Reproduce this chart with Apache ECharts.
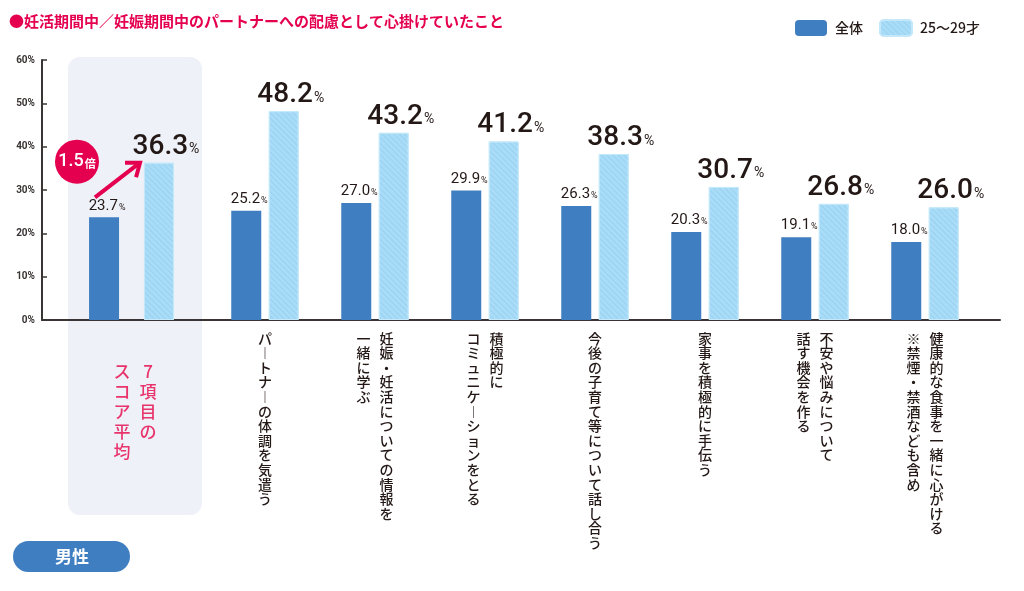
<!DOCTYPE html>
<html><head><meta charset="utf-8">
<script src="https://cdn.jsdelivr.net/npm/echarts@6/dist/echarts.min.js"></script>
<style>html,body{margin:0;padding:0;background:#fff}#c{width:1024px;height:591px}</style>
</head><body><div id="c"></div>
<script>
const titleText = '●妊活期間中／妊娠期間中のパートナーへの配慮として心掛けていたこと';
const seriesNames = ['全体', '25〜29才'];
const avgCategory = ['7項目の\nスコア平均'];
const avgAll = [23.7];
const avgAge = [36.3];
const categories = [
  'パートナーの体調を気遣う',
  '妊娠・妊活についての情報を\n一緒に学ぶ',
  '積極的に\nコミュニケーションをとる',
  '今後の子育て等について話し合う',
  '家事を積極的に手伝う',
  '不安や悩みについて\n話す機会を作る',
  '健康的な食事を一緒に心がける\n※禁煙・禁酒なども含め'
];
const allValues = [25.2, 27.0, 29.9, 26.3, 20.3, 19.1, 18.0];
const ageValues = [48.2, 43.2, 41.2, 38.3, 30.7, 26.8, 26.0];
const yMin = 0, yMax = 60, yInterval = 10;
const ratioText = '1.5';
const badgeText = '男性';

const DARK = '#3e7ec1', LIGHT = '#a9dcf6', INK = '#231815', PINK = '#e4004f', PINK2 = '#e8336b';
const NUMFONT = 'Roboto, sans-serif';
const JP = '"Noto Sans CJK JP", sans-serif';

function vertical(text, style) {
  const cols = text.split('\n').reverse().map(c => [...c]);
  const n = Math.max(...cols.map(c => c.length));
  const lines = [];
  for (let i = 0; i < n; i++) {
    lines.push(cols.map(c => {
      let ch = c[i];
      if (!ch) ch = '　';
      if (ch === 'ー') ch = '︱';
      return '{' + style + '|' + ch + '}';
    }).join(''));
  }
  return lines.join('\n');
}

const decal = {
  symbol: 'rect', symbolSize: 1,
  dashArrayX: [[1, 0]], dashArrayY: [1, 3],
  rotation: Math.PI / 4,
  color: 'rgba(130,195,235,0.45)'
};

const smallLabel = {
  show: true, position: 'top', distance: 4, offset: [3, 0],
  formatter: p => '{v|' + p.value.toFixed(1) + '}{p|%}',
  rich: {
    v: { fontSize: 15, color: INK, fontFamily: NUMFONT },
    p: { fontSize: 9, color: INK, fontFamily: NUMFONT, padding: [3, 0, 0, 1] }
  }
};
const bigLabel = {
  show: true, position: 'top', distance: 2, offset: [7, 0],
  formatter: p => '{v|' + p.value.toFixed(1) + '}{p|%}',
  rich: {
    v: { fontSize: 28, color: INK, fontFamily: NUMFONT, fontWeight: 500 },
    p: { fontSize: 14, color: INK, fontFamily: NUMFONT, padding: [6, 0, 0, 1] }
  }
};

const gridTop = 60, gridBottom = 271;
const hiddenY = i => ({ type: 'value', gridIndex: i, min: yMin, max: yMax, interval: yInterval, show: false });

const option = {
  animation: false,
  backgroundColor: '#fff',
  title: {
    text: titleText, left: 4, top: 9,
    textStyle: { color: PINK, fontSize: 15, fontWeight: 'bold', fontFamily: JP }
  },
  legend: {
    data: seriesNames, left: 790, top: 14, itemWidth: 32, itemHeight: 16, itemGap: 16,
    textStyle: { color: INK, fontSize: 14, fontFamily: JP, fontWeight: 500, padding: [0, 0, 0, 3] }
  },
  grid: [
    { left: 42, right: 24, top: gridTop, bottom: gridBottom },
    { left: 68, width: 127, top: gridTop, bottom: gridBottom },
    { left: 210, width: 770, top: gridTop, bottom: gridBottom }
  ],
  xAxis: [
    { type: 'value', gridIndex: 0, min: 0, max: 1, axisLine: { show: true, lineStyle: { color: '#3a3434', width: 2 } },
      axisTick: { show: false }, axisLabel: { show: false }, splitLine: { show: false } },
    { type: 'category', gridIndex: 1, data: avgCategory, axisLine: { show: false }, axisTick: { show: false },
      axisLabel: { margin: 42, interval: 0, padding: [0, 0, 0, 7], formatter: v => vertical(v, 'c'),
        rich: { c: { width: 26, align: 'center', fontSize: 17, lineHeight: 20, color: PINK2, fontFamily: JP, fontWeight: 500 } } } },
    { type: 'category', gridIndex: 2, data: categories, axisLine: { show: false }, axisTick: { show: false },
      axisLabel: { margin: 11, interval: 0, formatter: v => vertical(v, 'c'),
        rich: { c: { width: 23, align: 'center', fontSize: 14, lineHeight: 14.6, color: INK, fontFamily: JP, fontWeight: 500 } } } }
  ],
  yAxis: [
    { type: 'value', gridIndex: 0, min: yMin, max: yMax, interval: yInterval,
      axisLine: { show: true, lineStyle: { color: '#3a3434', width: 2 } },
      axisTick: { show: true, inside: true, length: 5, lineStyle: { color: '#3a3434', width: 1.5 } },
      splitLine: { show: false },
      axisLabel: { formatter: '{value}%', fontSize: 10, fontWeight: 'bold', color: '#3a3434', margin: 7, fontFamily: 'Roboto, sans-serif' } },
    hiddenY(1), hiddenY(2)
  ],
  series: [
    { name: seriesNames[0], type: 'bar', xAxisIndex: 1, yAxisIndex: 1, data: avgAll, barWidth: 30, barGap: '83%',
      itemStyle: { color: DARK }, label: smallLabel, z: 3 },
    { name: seriesNames[1], type: 'bar', xAxisIndex: 1, yAxisIndex: 1, data: avgAge, barWidth: 30,
      itemStyle: { color: LIGHT, decal: decal, borderColor: '#c4e8fa', borderWidth: 1 }, label: bigLabel, z: 3 },
    { name: seriesNames[0], type: 'bar', xAxisIndex: 2, yAxisIndex: 2, data: allValues, barWidth: 30, barGap: '25%',
      itemStyle: { color: DARK }, label: smallLabel, z: 3 },
    { name: seriesNames[1], type: 'bar', xAxisIndex: 2, yAxisIndex: 2, data: ageValues, barWidth: 30,
      itemStyle: { color: LIGHT, decal: decal, borderColor: '#c4e8fa', borderWidth: 1 }, label: bigLabel, z: 3 }
  ]
};

const chart = echarts.init(document.getElementById('c'), null, { renderer: 'canvas' });
chart.setOption(option);

// annotations placed from the axis scale
const yTopAge = chart.convertToPixel({ xAxisIndex: 1, yAxisIndex: 1 }, [0, avgAge[0]])[1];
const yTopAll = chart.convertToPixel({ xAxisIndex: 1, yAxisIndex: 1 }, [0, avgAll[0]])[1];
const x0 = 95, y0 = yTopAll - 20, x1 = 140, y1 = yTopAge;
const ang = Math.atan2(y1 - y0, x1 - x0), hl = 15;
const h1 = [x1 - hl * Math.cos(ang - 0.65), y1 - hl * Math.sin(ang - 0.65)];
const h2 = [x1 - hl * Math.cos(ang + 0.65), y1 - hl * Math.sin(ang + 0.65)];

chart.setOption({
  graphic: [
    { type: 'rect', z: -10, silent: true, shape: { x: 68, y: 57, width: 134, height: 458, r: 12 }, style: { fill: '#eef1f8' } },
    { type: 'polyline', z: 10, shape: { points: [[x0, y0], [x1 - 2, y1 + 1.5]] }, style: { stroke: PINK, lineWidth: 4, fill: null } },
    { type: 'polyline', z: 10, shape: { points: [h1, [x1, y1], h2] }, style: { stroke: PINK, lineWidth: 4, fill: null, lineJoin: 'miter' } },
    { type: 'circle', z: 10, shape: { cx: 77, cy: yTopAge - 1, r: 22 }, style: { fill: PINK } },
    { type: 'text', z: 11, x: 77, y: yTopAge - 1, style: {
        text: '{a|' + ratioText + '}{b|倍}', align: 'center', verticalAlign: 'middle',
        rich: { a: { fontSize: 18, fontWeight: 500, fill: '#fff', fontFamily: NUMFONT },
                b: { fontSize: 11, fontWeight: 'bold', fill: '#fff', fontFamily: JP, padding: [4, 0, 0, 1] } } } },
    { type: 'rect', z: 10, shape: { x: 13, y: 541, width: 117, height: 31, r: 15.5 }, style: { fill: DARK } },
    { type: 'text', z: 11, x: 72, y: 557, style: { text: badgeText, align: 'center', verticalAlign: 'middle',
        fill: '#fff', fontSize: 17, fontWeight: 'bold', fontFamily: JP } }
  ]
});
</script>
</body></html>
